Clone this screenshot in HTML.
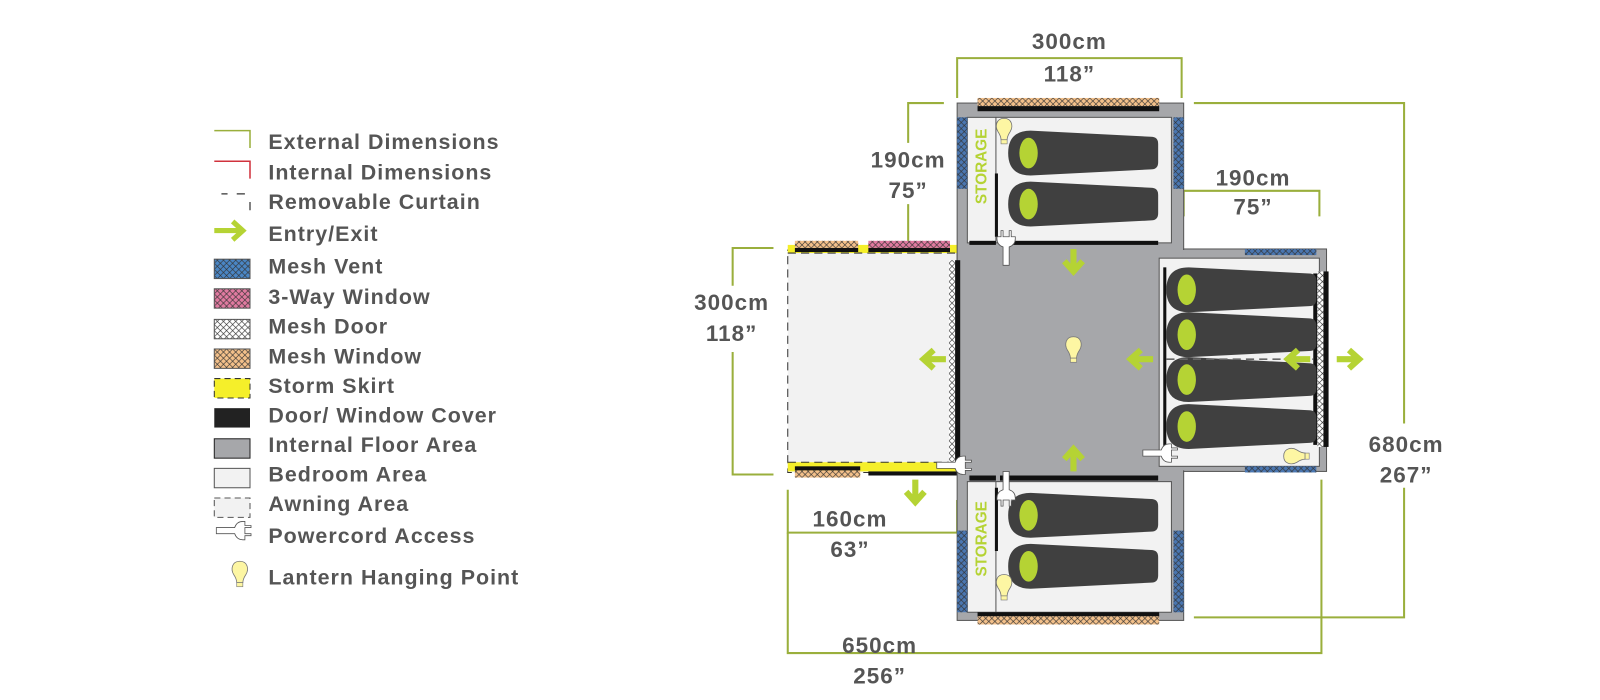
<!DOCTYPE html>
<html><head><meta charset="utf-8"><style>
html,body{margin:0;padding:0;background:#fff;}
svg{display:block;}
text{font-family:"Liberation Sans",sans-serif;font-weight:bold;fill:#555;}
</style></head><body>
<svg width="1600" height="700" viewBox="0 0 1568 686" preserveAspectRatio="none" xmlns="http://www.w3.org/2000/svg">
<defs>
<pattern id="hx" width="6" height="6" patternUnits="userSpaceOnUse"><path d="M0 0L6 6M6 0L0 6" stroke="#333" stroke-width="0.6"/></pattern>
<g id="bag"><path d="M22 0 L140 6 Q147 6 147 13 L147 31 Q147 38 140 38 L22 44 Q0 44 0 22 Q0 0 22 0Z" fill="#404040"/><ellipse cx="20" cy="22" rx="9" ry="15" fill="#b5d334"/></g>
<g id="bulb"><path d="M0 -12 C-8 -12 -9 -4 -6 1 C-4 4 -3 6 -3 9 L3 9 C3 6 4 4 6 1 C9 -4 8 -12 0 -12Z" fill="#fdf6a3" stroke="#777" stroke-width="0.8"/><rect x="-3" y="9" width="6" height="4" fill="#fdf6a3" stroke="#777" stroke-width="0.6"/></g>
<g id="arrL"><path d="M2 0 L24 0 M12 -9 L2 0 L12 9" fill="none" stroke="#b5d334" stroke-width="6" stroke-linejoin="miter"/></g>
<g id="plug"><path d="M0 -3 L18 -3 Q20 -9 26 -9 L28 -9 L28 -5 L34 -5 L34 -3 L28 -3 L28 3 L34 3 L34 5 L28 5 L28 9 L26 9 Q20 9 18 3 L0 3Z" fill="#fff" stroke="#555" stroke-width="0.8"/></g>
</defs>

<!-- Legend -->
<g>
<path d="M210 128 L245 128 L245 145" fill="none" stroke="#9aaf3c" stroke-width="1.5"/>
<path d="M210 158 L245 158 L245 175" fill="none" stroke="#d0323c" stroke-width="1.5"/>
<path d="M217 190 L223 190 M232 190 L240 190 M245 198 L245 206" fill="none" stroke="#333" stroke-width="1.2"/>
<path d="M210 226 L238 226 M228 217 L238 226 L228 235" fill="none" stroke="#b5d334" stroke-width="5"/>
<rect x="210" y="254" width="35" height="19" fill="#4a86c5"/><rect x="210" y="254" width="35" height="19" fill="url(#hx)" stroke="#555"/>
<rect x="210" y="283" width="35" height="19" fill="#e07aa0"/><rect x="210" y="283" width="35" height="19" fill="url(#hx)" stroke="#555"/>
<rect x="210" y="313" width="35" height="19" fill="#fff"/><rect x="210" y="313" width="35" height="19" fill="url(#hx)" stroke="#555"/>
<rect x="210" y="342" width="35" height="19" fill="#f3c08a"/><rect x="210" y="342" width="35" height="19" fill="url(#hx)" stroke="#555"/>
<rect x="210" y="371" width="35" height="19" fill="#f5ef2a" stroke="#333" stroke-dasharray="6,4"/>
<rect x="210" y="400" width="35" height="19" fill="#222"/>
<rect x="210" y="430" width="35" height="19" fill="#a6a7aa" stroke="#222"/>
<rect x="210" y="459" width="35" height="19" fill="#f2f2f2" stroke="#555"/>
<rect x="210" y="488" width="35" height="19" fill="#f2f2f2" stroke="#555" stroke-dasharray="6,4"/>
<use href="#plug" x="212" y="520"/>
<use href="#bulb" x="235" y="562"/>
<g font-size="21" letter-spacing="1">
<text x="263" y="146">External Dimensions</text>
<text x="263" y="176">Internal Dimensions</text>
<text x="263" y="205">Removable Curtain</text>
<text x="263" y="236">Entry/Exit</text>
<text x="263" y="268">Mesh Vent</text>
<text x="263" y="298">3-Way Window</text>
<text x="263" y="327">Mesh Door</text>
<text x="263" y="356">Mesh Window</text>
<text x="263" y="385">Storm Skirt</text>
<text x="263" y="414">Door/ Window Cover</text>
<text x="263" y="443">Internal Floor Area</text>
<text x="263" y="472">Bedroom Area</text>
<text x="263" y="501">Awning Area</text>
<text x="263" y="532">Powercord Access</text>
<text x="263" y="573">Lantern Hanging Point</text>
</g>
</g>

<!-- Dimension lines -->
<g fill="none" stroke="#9aaf3c" stroke-width="2">
<path d="M938 96 L938 57 L1158 57 L1158 96"/>
<path d="M925 101 L890 101 L890 140 M890 200 L890 236"/>
<path d="M1160 212 L1160 187 L1293 187 L1293 212"/>
<path d="M758 243 L718 243 L718 280 M718 345 L718 465 L758 465"/>
<path d="M1170 101 L1376 101 L1376 415 M1376 478 L1376 605 L1170 605"/>
<path d="M772 480 L772 522 L938 522 L938 490"/>
<path d="M772 522 L772 640 L1295 640 L1295 470"/>
</g>
<g font-size="22" text-anchor="middle" letter-spacing="1">
<text x="1048" y="48">300cm</text><text x="1048" y="80">118”</text>
<text x="890" y="164">190cm</text><text x="890" y="194">75”</text>
<text x="1228" y="182">190cm</text><text x="1228" y="210">75”</text>
<text x="717" y="304">300cm</text><text x="717" y="334">118”</text>
<text x="1378" y="443">680cm</text><text x="1378" y="473">267”</text>
<text x="833" y="516">160cm</text><text x="833" y="546">63”</text>
<text x="862" y="640">650cm</text><text x="862" y="670">256”</text>
</g>

<!-- Awning -->
<rect x="772" y="245" width="166" height="218" fill="#f2f2f2" stroke="#333" stroke-dasharray="8,5"/>
<rect x="772" y="240" width="166" height="8" fill="#f5ef2a"/>
<path d="M772 248 L938 248" stroke="#333" stroke-dasharray="8,5"/>
<rect x="772" y="453" width="166" height="9" fill="#f5ef2a"/>
<path d="M772 453 L938 453" stroke="#333" stroke-dasharray="8,5"/>
<rect x="779" y="236" width="62" height="7" fill="#f3c08a"/><rect x="779" y="236" width="62" height="7" fill="url(#hx)"/><rect x="779" y="243" width="62" height="4" fill="#111"/>
<rect x="851" y="236" width="80" height="7" fill="#e07aa0"/><rect x="851" y="236" width="80" height="7" fill="url(#hx)"/><rect x="851" y="243" width="80" height="4" fill="#111"/>
<rect x="779" y="457" width="64" height="4" fill="#111"/><rect x="779" y="461" width="64" height="7" fill="#f3c08a"/><rect x="779" y="461" width="64" height="7" fill="url(#hx)"/>
<rect x="851" y="462" width="87" height="4" fill="#111"/>

<!-- Main gray -->
<rect x="938" y="101" width="222" height="507" fill="#a6a7aa" stroke="#555" stroke-width="1"/>
<rect x="1160" y="244" width="140" height="218" fill="#a6a7aa" stroke="#555" stroke-width="1"/>
<rect x="1159" y="245" width="3" height="216" fill="#a6a7aa"/>
<rect x="930" y="255" width="6" height="200" fill="#fff"/><rect x="930" y="255" width="6" height="200" fill="url(#hx)"/>
<rect x="936" y="255" width="5" height="200" fill="#111"/>

<!-- Top bedroom -->
<rect x="948" y="115" width="200" height="123" fill="#f2f2f2" stroke="#555"/>
<rect x="938" y="115" width="10" height="70" fill="#4a76b0"/><rect x="938" y="115" width="10" height="70" fill="url(#hx)"/>
<rect x="1150" y="115" width="10" height="70" fill="#4a76b0"/><rect x="1150" y="115" width="10" height="70" fill="url(#hx)"/>
<rect x="958" y="96" width="178" height="8" fill="#f3c08a"/><rect x="958" y="96" width="178" height="8" fill="url(#hx)"/><rect x="958" y="104" width="178" height="5" fill="#111"/>
<line x1="976" y1="115" x2="976" y2="238" stroke="#555"/>
<rect x="975" y="170" width="3" height="62" fill="#111"/>
<rect x="950" y="236" width="26" height="4" fill="#111"/><rect x="980" y="236" width="155" height="4" fill="#111"/>
<text x="0" y="0" font-size="15" style="fill:#b5d334" transform="translate(967,200) rotate(-90)">STORAGE</text>
<use href="#bag" x="988" y="128"/><use href="#bag" x="988" y="178"/>
<use href="#bulb" x="984" y="128"/>

<!-- Bottom bedroom -->
<rect x="948" y="472" width="200" height="128" fill="#f2f2f2" stroke="#555"/>
<rect x="938" y="520" width="10" height="80" fill="#4a76b0"/><rect x="938" y="520" width="10" height="80" fill="url(#hx)"/>
<rect x="1150" y="520" width="10" height="80" fill="#4a76b0"/><rect x="1150" y="520" width="10" height="80" fill="url(#hx)"/>
<rect x="958" y="600" width="178" height="4" fill="#111"/><rect x="958" y="604" width="178" height="8" fill="#f3c08a"/><rect x="958" y="604" width="178" height="8" fill="url(#hx)"/>
<line x1="976" y1="472" x2="976" y2="600" stroke="#555"/>
<rect x="975" y="478" width="3" height="62" fill="#111"/>
<rect x="950" y="466" width="26" height="5" fill="#111"/><rect x="980" y="466" width="155" height="5" fill="#111"/>
<text x="0" y="0" font-size="15" style="fill:#b5d334" transform="translate(967,565) rotate(-90)">STORAGE</text>
<use href="#bag" x="988" y="483"/><use href="#bag" x="988" y="533"/>
<use href="#bulb" x="984" y="575"/>

<!-- Right bedroom -->
<rect x="1136" y="253" width="157" height="204" fill="#f2f2f2" stroke="#555"/>
<rect x="1220" y="244" width="70" height="6" fill="#4a76b0"/><rect x="1220" y="244" width="70" height="6" fill="url(#hx)"/>
<rect x="1220" y="457" width="70" height="6" fill="#4a76b0"/><rect x="1220" y="457" width="70" height="6" fill="url(#hx)"/>
<rect x="1140" y="262" width="3" height="188" fill="#111"/>
<rect x="1287" y="268" width="4" height="168" fill="#111"/>
<rect x="1291" y="266" width="6" height="172" fill="#fff"/><rect x="1291" y="266" width="6" height="172" fill="url(#hx)"/>
<rect x="1297" y="266" width="5" height="172" fill="#111"/>
<use href="#bag" x="1143" y="262"/><use href="#bag" x="1143" y="306"/><use href="#bag" x="1143" y="350"/><use href="#bag" x="1143" y="396"/>
<line x1="1143" y1="352" x2="1287" y2="352" stroke="#666" stroke-width="1.5" stroke-dasharray="8,5"/>
<use href="#bulb" transform="translate(1270,447) rotate(-90)"/>
<use href="#bulb" x="1052" y="342"/>

<!-- Arrows -->
<use href="#arrL" x="903" y="352"/>
<use href="#arrL" x="1106" y="352"/>
<use href="#arrL" x="1260" y="352"/>
<use href="#arrL" transform="translate(1334,352) rotate(180)"/>
<use href="#arrL" transform="translate(1052,268) rotate(-90)"/>
<use href="#arrL" transform="translate(1052,438) rotate(90)"/>
<use href="#arrL" transform="translate(897,494) rotate(-90)"/>

<!-- Plugs -->
<use href="#plug" transform="translate(986,260) rotate(-90)"/>
<use href="#plug" x="918" y="456"/>
<use href="#plug" transform="translate(986,462) rotate(90)"/>
<use href="#plug" x="1120" y="444"/>
</svg>
</body></html>
